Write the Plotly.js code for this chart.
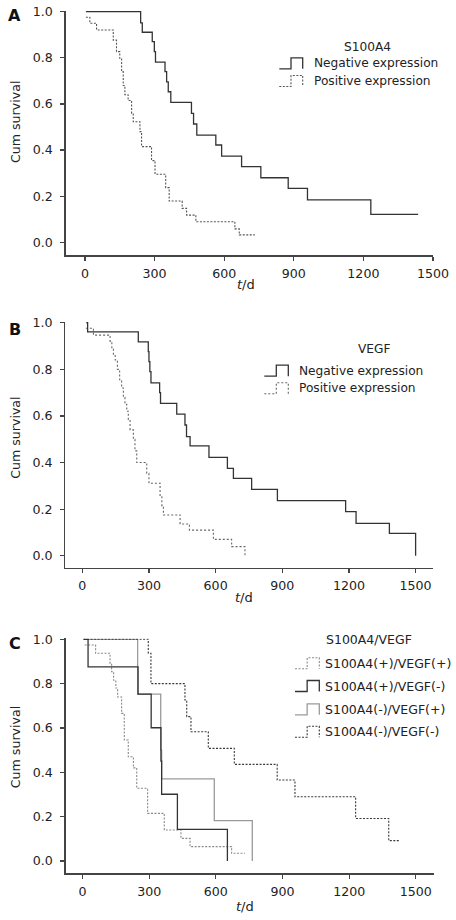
<!DOCTYPE html>
<html>
<head>
<meta charset="utf-8">
<script src="https://cdn.plot.ly/plotly-3.0.1.min.js"></script>
<style>html,body{margin:0;padding:0;background:#fff;}#chart{width:456px;height:920px;}</style>
</head>
<body>
<div id="chart"></div>
<script>
// ---------- DATA ----------
var xTicks = [0, 300, 600, 900, 1200, 1500];
var yTicks = [0, 0.2, 0.4, 0.6, 0.8, 1.0];

// Panel A : S100A4
var aNegT = [4, 240, 247, 290, 299, 304, 345, 352, 359, 370, 459, 468, 482, 564, 589, 675, 758, 876, 959, 1232, 1436];
var aNegS = [1.0, 0.952, 0.911, 0.870, 0.827, 0.781, 0.740, 0.696, 0.653, 0.607, 0.559, 0.513, 0.465, 0.422, 0.374, 0.328, 0.280, 0.234, 0.184, 0.121, 0.121];
var aPosT = [4, 21, 50, 122, 136, 150, 158, 165, 172, 186, 201, 208, 237, 244, 287, 302, 348, 363, 419, 438, 478, 646, 665, 732];
var aPosS = [0.976, 0.950, 0.921, 0.877, 0.827, 0.798, 0.740, 0.680, 0.640, 0.615, 0.560, 0.523, 0.480, 0.415, 0.354, 0.295, 0.237, 0.179, 0.147, 0.118, 0.089, 0.058, 0.032, 0.032];

// Panel B : VEGF
var bNegT = [18, 24, 252, 297, 300, 304, 309, 348, 352, 425, 462, 469, 485, 570, 653, 680, 762, 878, 1185, 1232, 1382, 1500];
var bNegS = [1.0, 0.961, 0.918, 0.876, 0.833, 0.790, 0.742, 0.700, 0.654, 0.608, 0.561, 0.511, 0.471, 0.422, 0.375, 0.332, 0.285, 0.236, 0.189, 0.139, 0.096, 0.0];
var bPosT = [16, 50, 125, 133, 140, 148, 158, 168, 177, 185, 192, 200, 207, 215, 230, 237, 245, 290, 300, 350, 358, 365, 440, 482, 590, 672, 732];
var bPosS = [0.976, 0.947, 0.920, 0.890, 0.865, 0.840, 0.800, 0.755, 0.720, 0.680, 0.650, 0.620, 0.585, 0.540, 0.500, 0.450, 0.400, 0.354, 0.311, 0.253, 0.215, 0.175, 0.136, 0.110, 0.070, 0.039, 0.0];

// Panel C : S100A4/VEGF
var cPPT = [10, 59, 124, 131, 140, 150, 158, 176, 188, 206, 229, 244, 293, 368, 443, 484, 671, 731];
var cPPS = [0.974, 0.937, 0.891, 0.854, 0.815, 0.780, 0.740, 0.666, 0.546, 0.470, 0.420, 0.328, 0.215, 0.140, 0.102, 0.065, 0.035, 0.035];
var cPNT = [5, 25, 250, 309, 353, 356, 427, 652];
var cPNS = [1.0, 0.876, 0.753, 0.601, 0.451, 0.301, 0.143, 0.0];
var cNPT = [5, 248, 352, 356, 593, 764];
var cNPS = [1.0, 0.753, 0.500, 0.370, 0.182, 0.0];
var cNNT = [5, 296, 308, 461, 469, 488, 566, 683, 876, 956, 1229, 1378, 1427];
var cNNS = [1.0, 0.937, 0.800, 0.726, 0.651, 0.583, 0.508, 0.436, 0.365, 0.290, 0.192, 0.092, 0.092];

var legA = {title: "S100A4", names: ["Negative expression", "Positive expression"]};
var legB = {title: "VEGF", names: ["Negative expression", "Positive expression"]};
var legC = {title: "S100A4/VEGF", names: ["S100A4(+)/VEGF(+)", "S100A4(+)/VEGF(-)", "S100A4(-)/VEGF(+)", "S100A4(-)/VEGF(-)"]};

// ---------- STYLES ----------
var FONT = "DejaVu Sans";
var FS = 12.2;
var TFS = 12.6;
var solidDark = {color: "#333333", width: 1.3, shape: "hv"};
var solidLight = {color: "#9a9a9a", width: 1.3, shape: "hv"};
var dotA = {color: "#555555", width: 1.1, dash: "2px,1.5px", shape: "hv"};
var dotB = {color: "#666666", width: 1.1, dash: "2px,2px", shape: "hv"};
var dotCL = {color: "#8a8a8a", width: 1.1, dash: "2px,1.5px", shape: "hv"};
var dotCD = {color: "#3a3a3a", width: 1.1, dash: "2px,1.5px", shape: "hv"};

function tr(x, y, line, xa, ya, name) {
  return {x: x, y: y, type: "scatter", mode: "lines", line: line, xaxis: xa, yaxis: ya, name: name, hoverinfo: "skip"};
}

var data = [
  tr(aPosT, aPosS, dotA, "x", "y", legA.names[1]),
  tr(aNegT, aNegS, solidDark, "x", "y", legA.names[0]),
  tr(bPosT, bPosS, dotB, "x2", "y2", legB.names[1]),
  tr(bNegT, bNegS, solidDark, "x2", "y2", legB.names[0]),
  tr(cPPT, cPPS, dotCL, "x3", "y3", legC.names[0]),
  tr(cNPT, cNPS, solidLight, "x3", "y3", legC.names[2]),
  tr(cNNT, cNNS, dotCD, "x3", "y3", legC.names[3]),
  tr(cPNT, cPNS, solidDark, "x3", "y3", legC.names[1])
];

// ---------- LAYOUT HELPERS ----------
var W = 456, H = 920;
function px(x) { return x / W; }
function py(y) { return 1 - y / H; }

function xax(dom, rng, anchor) {
  return {domain: dom, range: rng, anchor: anchor, tickvals: xTicks, ticktext: xTicks.map(String),
    showline: true, linecolor: "#444", linewidth: 1.3, ticks: "outside", ticklen: 4, tickwidth: 1.2,
    tickcolor: "#444", showgrid: false, zeroline: false, ticklabelstandoff: 2,
    tickfont: {family: FONT, size: TFS, color: "#222"}, fixedrange: true};
}
function yax(dom, rng, anchor) {
  return {domain: dom, range: rng, anchor: anchor, tickvals: yTicks, tickformat: ".1f",
    showline: true, linecolor: "#444", linewidth: 1.3, ticks: "outside", ticklen: 4, tickwidth: 1.2,
    tickcolor: "#444", showgrid: false, zeroline: false, ticklabelstandoff: 5,
    tickfont: {family: FONT, size: TFS, color: "#222"}, fixedrange: true};
}

var annotations = [];
var shapes = [];
function txt(x, y, t, opts) {
  var a = {xref: "paper", yref: "paper", x: px(x), y: py(y), text: t, showarrow: false,
    xanchor: "center", yanchor: "middle", borderpad: 0,
    font: {family: FONT, size: FS, color: "#222"}};
  for (var k in opts) a[k] = opts[k];
  annotations.push(a);
}
function sym(x0, x1, yc, line) {
  var h = 11, xm = (x0 + x1) / 2;
  var yb = yc + h / 2, yt = yc - h / 2;
  var path = "M" + px(x0) + "," + py(yb) + " H" + px(xm) + " V" + py(yt) + " H" + px(x1) + " V" + py(yb);
  shapes.push({type: "path", xref: "paper", yref: "paper", path: path,
    line: {color: line.color, width: line.width, dash: line.dash || "solid"}});
}

// panel letters
txt(14.5, 15.5, "<b>A</b>", {font: {family: FONT, size: 16, color: "#111"}});
txt(14.8, 329, "<b>B</b>", {font: {family: FONT, size: 16, color: "#111"}});
txt(14.5, 643.5, "<b>C</b>", {font: {family: FONT, size: 16, color: "#111"}});

// axis titles
txt(15, 122, "Cum survival", {textangle: -90, font: {family: FONT, size: 12.6, color: "#222"}});
txt(15.3, 437.5, "Cum survival", {textangle: -90, font: {family: FONT, size: 12.6, color: "#222"}});
txt(15.7, 747.5, "Cum survival", {textangle: -90, font: {family: FONT, size: 12.6, color: "#222"}});
txt(246, 284.5, "<i>t</i>/d", {font: {family: FONT, size: 13, color: "#222"}});
txt(244, 597.5, "<i>t</i>/d", {font: {family: FONT, size: 13, color: "#222"}});
txt(245, 906.5, "<i>t</i>/d", {font: {family: FONT, size: 13, color: "#222"}});

// legends
txt(367.5, 46.7, legA.title);
txt(313.3, 63.3, legA.names[0], {xanchor: "left"});
txt(313.3, 81, legA.names[1], {xanchor: "left"});
sym(279.3, 302.7, 63.3, solidDark);
sym(279.3, 302.7, 81, dotA);

txt(374.3, 349.3, legB.title);
txt(298.3, 370.7, legB.names[0], {xanchor: "left"});
txt(298.3, 388.3, legB.names[1], {xanchor: "left"});
sym(264.3, 288.3, 370.7, solidDark);
sym(264.3, 288.3, 388.3, dotB);

txt(325, 639.5, legC.title, {xanchor: "left", font: {family: FONT, size: 12.5, color: "#222"}});
var cRows = [663.3, 686, 709.3, 731.7];
var cLines = [dotCL, solidDark, solidLight, dotCD];
for (var i = 0; i < 4; i++) {
  txt(324, cRows[i], legC.names[i], {xanchor: "left", font: {family: FONT, size: 12.5, color: "#222"}});
  sym(295, 319.3, cRows[i], cLines[i]);
}

var layout = {
  width: W, height: H, margin: {l: 0, r: 0, t: 0, b: 0},
  paper_bgcolor: "#fff", plot_bgcolor: "#fff", showlegend: false,
  font: {family: FONT, size: FS, color: "#222"},
  xaxis: xax([px(65.7), px(433)], [-83, 1500], "y"),
  yaxis: yax([py(255.3), py(10.8)], [-0.0564, 1.004], "x"),
  xaxis2: xax([px(65.3), px(433.3)], [-76.5, 1579.6], "y2"),
  yaxis2: yax([py(567.7), py(321.8)], [-0.0515, 1.004], "x2"),
  xaxis3: xax([px(65.7), px(434.3)], [-75.6, 1583], "y3"),
  yaxis3: yax([py(873.3), py(638.4)], [-0.0555, 1.004], "x3"),
  annotations: annotations,
  shapes: shapes
};

Plotly.newPlot("chart", data, layout, {staticPlot: true, displayModeBar: false});
</script>
</body>
</html>
